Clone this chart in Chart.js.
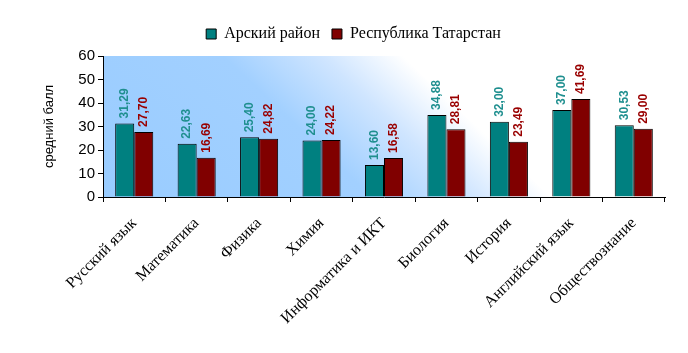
<!DOCTYPE html>
<html>
<head>
<meta charset="utf-8">
<script src="https://cdn.jsdelivr.net/npm/chart.js@4.4.0/dist/chart.umd.min.js"></script>
<style>
  html, body { margin: 0; padding: 0; background: #fff; }
  #wrap { width: 688px; height: 353px; }
</style>
</head>
<body>
<div id="wrap"><canvas id="chart"></canvas></div>
<script>
// Subjects and average scores
const subjects = ['Русский язык', 'Математика', 'Физика', 'Химия', 'Информатика и ИКТ',
                  'Биология', 'История', 'Английский язык', 'Обществознание'];
const arskValues = [31.29, 22.63, 25.40, 24.00, 13.60, 34.88, 32.00, 37.00, 30.53];
const tatarstanValues = [27.70, 16.69, 24.82, 24.22, 16.58, 28.81, 23.49, 41.69, 29.00];
const seriesNames = ['Арский район', 'Республика Татарстан'];
const yTicks = [0, 10, 20, 30, 40, 50, 60];

// Gradient background of the plot area (blue bottom-left -> white top-right)
const plotBackground = {
    id: 'plotBackground',
    beforeDraw(chart) {
        const { ctx, chartArea: a } = chart;
        const g = ctx.createLinearGradient(a.left, a.bottom, a.left + 212, a.bottom - 224);
        g.addColorStop(0, '#99ccff');
        g.addColorStop(0.6, '#a2d0ff');
        g.addColorStop(0.82, '#cfe5ff');
        g.addColorStop(1, '#ffffff');
        ctx.save();
        ctx.fillStyle = g;
        ctx.fillRect(a.left, a.top, a.right - a.left, a.bottom - a.top);
        ctx.restore();
    }
};

// Extra space under the legend
const legendGap = {
    id: 'legendGap',
    beforeInit(chart) {
        const fit = chart.legend.fit;
        chart.legend.fit = function () {
            fit.call(this);
            this.height += 4;
        };
    }
};

// Vertical value labels above bars
const valueLabels = {
    id: 'valueLabels',
    afterDatasetsDraw(chart) {
        const ctx = chart.ctx;
        const colors = ['#1f8f8f', '#990000'];
        ctx.save();
        ctx.font = 'bold 12px "Liberation Sans", Arial, sans-serif';
        ctx.textAlign = 'left';
        ctx.textBaseline = 'middle';
        chart.data.datasets.forEach((ds, i) => {
            const meta = chart.getDatasetMeta(i);
            meta.data.forEach((bar, j) => {
                const text = ds.data[j].toFixed(2).replace('.', ',');
                ctx.save();
                ctx.translate(bar.x, bar.y - 5);
                ctx.rotate(-Math.PI / 2);
                ctx.fillStyle = colors[i];
                ctx.fillText(text, 0, 0);
                ctx.restore();
            });
        });
        ctx.restore();
    }
};

new Chart(document.getElementById('chart'), {
    type: 'bar',
    data: {
        labels: subjects,
        datasets: [{
            label: seriesNames[0],
            data: arskValues,
            backgroundColor: '#008080',
            borderColor: '#000',
            borderWidth: 1,
            categoryPercentage: 0.61,
            barPercentage: 1
        }, {
            label: seriesNames[1],
            data: tatarstanValues,
            backgroundColor: '#800000',
            borderColor: '#000',
            borderWidth: 1,
            categoryPercentage: 0.61,
            barPercentage: 1
        }]
    },
    options: {
        responsive: true,
        maintainAspectRatio: false,
        animation: false,
        layout: { padding: { top: 14, right: 23, left: 42, bottom: 0 } },
        plugins: {
            legend: {
                position: 'top',
                labels: {
                    boxWidth: 10,
                    boxHeight: 10,
                    padding: 12,
                    color: '#000',
                    font: { family: '"Liberation Serif", "Times New Roman", serif', size: 16 }
                }
            },
            tooltip: { enabled: false }
        },
        scales: {
            x: {
                grid: { drawOnChartArea: false, drawTicks: true, tickLength: 5, color: '#000', offset: true },
                border: { color: '#000', width: 1 },
                ticks: {
                    color: '#000',
                    minRotation: 45,
                    maxRotation: 45,
                    padding: 12,
                    font: { family: '"Liberation Serif", "Times New Roman", serif', size: 16 }
                },
                afterFit(scale) { scale.height = 156; }
            },
            y: {
                min: 0,
                max: 60,
                afterBuildTicks(scale) { scale.ticks = yTicks.map(v => ({ value: v })); },
                grid: { drawOnChartArea: false, drawTicks: true, tickLength: 5, color: '#000' },
                border: { color: '#000', width: 1 },
                ticks: {
                    color: '#000',
                    padding: 3,
                    font: { family: '"Liberation Sans", Arial, sans-serif', size: 15 }
                },
                title: {
                    display: true,
                    text: 'средний балл',
                    color: '#000',
                    padding: { top: 0, bottom: 0 },
                    font: { family: '"Liberation Sans", Arial, sans-serif', size: 13 }
                },
                afterFit(scale) { scale.width = 61; }
            }
        }
    },
    plugins: [plotBackground, legendGap, valueLabels]
});
</script>
</body>
</html>
